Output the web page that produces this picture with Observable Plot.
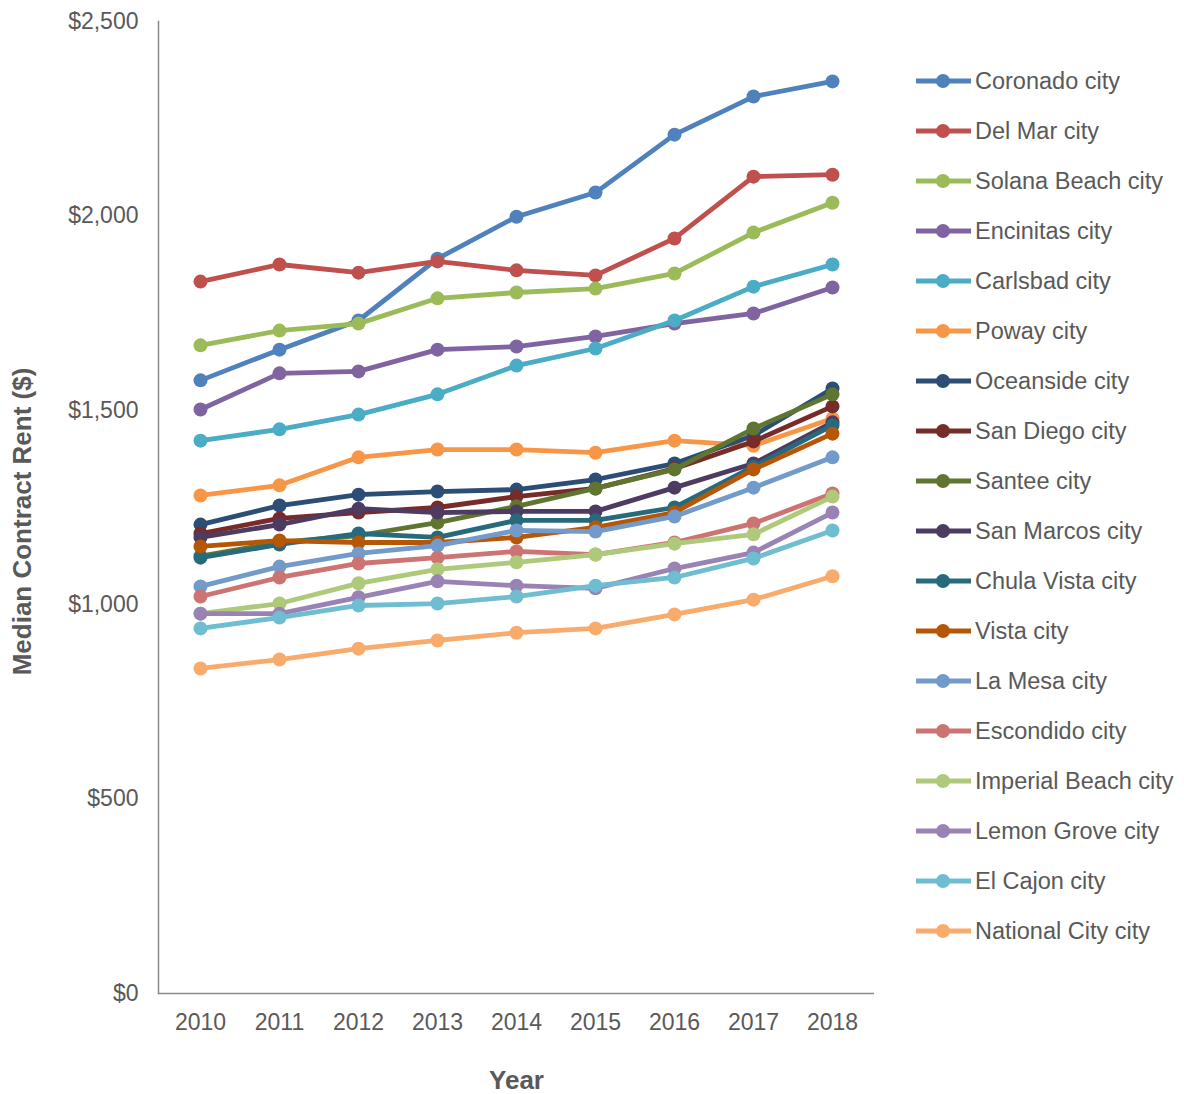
<!DOCTYPE html>
<html><head><meta charset="utf-8">
<script src="https://cdn.jsdelivr.net/npm/d3@7"></script>
<script src="https://cdn.jsdelivr.net/npm/@observablehq/plot@0.6"></script>
<style>
body{margin:0;background:#fff;}
#wrap{position:relative;width:1184px;height:1094px;font-family:"Liberation Sans",Arial,sans-serif;}
#legend{position:absolute;left:914px;top:56px;}
.item{height:50px;display:flex;align-items:center;font-size:23.5px;color:#595959;white-space:nowrap;}
.item svg{margin-right:3px;flex:none;}
</style></head><body><div id="wrap"></div><script>
const years = [2010, 2011, 2012, 2013, 2014, 2015, 2016, 2017, 2018];
const cities = ["Coronado city","Del Mar city","Solana Beach city","Encinitas city","Carlsbad city","Poway city","Oceanside city","San Diego city","Santee city","San Marcos city","Chula Vista city","Vista city","La Mesa city","Escondido city","Imperial Beach city","Lemon Grove city","El Cajon city","National City city"];
const colors = ["#4F81BD","#C0504D","#9BBB59","#8064A2","#4BACC6","#F79646","#2C4D75","#772C2A","#5F7530","#4D3B62","#276A7C","#B65708","#729ACA","#CD7371","#AFC97A","#9983B5","#6FBDD1","#F9AB6B"];
const coronado      = [1577, 1656, 1731, 1890, 1998, 2060, 2209, 2307, 2346];
const delMar        = [1831, 1875, 1854, 1883, 1860, 1847, 1942, 2101, 2106];
const solanaBeach   = [1667, 1705, 1723, 1788, 1803, 1813, 1852, 1957, 2034];
const encinitas     = [1502, 1595, 1600, 1656, 1664, 1690, 1723, 1749, 1816];
const carlsbad      = [1422, 1451, 1489, 1541, 1615, 1659, 1731, 1818, 1875];
const poway         = [1281, 1307, 1379, 1399, 1399, 1391, 1422, 1409, 1479];
const oceanside     = [1206, 1255, 1283, 1291, 1296, 1322, 1363, 1435, 1556];
const sanDiego      = [1183, 1222, 1237, 1250, 1278, 1299, 1350, 1420, 1510];
const santee        = [1125, 1160, 1178, 1211, 1253, 1299, 1348, 1453, 1541];
const sanMarcos     = [1173, 1206, 1247, 1237, 1240, 1240, 1301, 1363, 1469];
const chulaVista    = [1121, 1155, 1183, 1173, 1217, 1217, 1250, 1355, 1461];
const vista         = [1150, 1165, 1160, 1160, 1173, 1199, 1237, 1348, 1440];
const laMesa        = [1047, 1098, 1132, 1152, 1191, 1188, 1227, 1301, 1379];
const escondido     = [1021, 1070, 1106, 1121, 1137, 1129, 1160, 1209, 1286];
const imperialBeach = [977, 1003, 1055, 1091, 1109, 1129, 1157, 1181, 1278];
const lemonGrove    = [977, 977, 1019, 1060, 1049, 1042, 1093, 1134, 1237];
const elCajon       = [939, 967, 998, 1003, 1021, 1049, 1070, 1119, 1191];
const nationalCity  = [836, 859, 887, 908, 928, 939, 975, 1013, 1073];
const yTicks = [0, 500, 1000, 1500, 2000, 2500];

const rentsByCity = [coronado, delMar, solanaBeach, encinitas, carlsbad, poway, oceanside, sanDiego, santee, sanMarcos, chulaVista, vista, laMesa, escondido, imperialBeach, lemonGrove, elCajon, nationalCity];
const rows = cities.flatMap((c, i) => years.map((yr, j) => ({city: c, year: yr, rent: rentsByCity[i][j]})));

const textColor = "#595959";
const axisColor = "#898989";
const marks = [
  Plot.ruleY([0], {stroke: axisColor, strokeWidth: 1.5}),
  Plot.frame({anchor: "left", stroke: axisColor, strokeWidth: 1.5}),
  Plot.axisY({ticks: yTicks, tickSize: 0, tickPadding: 20, tickFormat: d => "$" + d3.format(",")(d), fontSize: 23, fill: textColor, label: null}),
  Plot.axisX({tickSize: 0, tickPadding: 20, tickFormat: d => String(d), fontSize: 23, fill: textColor, label: null}),
  Plot.text(["Median Contract Rent ($)"], {frameAnchor: "left", rotate: -90, dx: -136, dy: 14, textAnchor: "middle", fontSize: 26, fontWeight: "bold", fill: textColor, lineAnchor: "middle"}),
  Plot.text(["Year"], {frameAnchor: "bottom", dy: 87, fontSize: 26, fontWeight: "bold", fill: textColor, lineAnchor: "middle"})
];
cities.forEach((c, i) => {
  const d = rows.filter(r => r.city === c);
  marks.push(Plot.line(d, {x: "year", y: "rent", stroke: colors[i], strokeWidth: 4.8}));
  marks.push(Plot.dot(d, {x: "year", y: "rent", fill: colors[i], r: 7}));
});

const chart = Plot.plot({
  width: 1184, height: 1094,
  marginLeft: 158, marginRight: 310, marginTop: 21, marginBottom: 101,
  style: {fontFamily: '"Liberation Sans", Arial, sans-serif', background: "#fff"},
  x: {type: "point", domain: years, padding: 0.5},
  y: {domain: [0, 2500]},
  marks
});
const wrap = document.getElementById("wrap");
wrap.appendChild(chart);

const legend = document.createElement("div");
legend.id = "legend";
cities.forEach((c, i) => {
  const item = document.createElement("div");
  item.className = "item";
  item.innerHTML = `<svg width="58" height="20"><line x1="2" x2="57" y1="10" y2="10" stroke="${colors[i]}" stroke-width="4.8"/><circle cx="29" cy="10" r="7" fill="${colors[i]}"/></svg><span>${c}</span>`;
  legend.appendChild(item);
});
wrap.appendChild(legend);
</script></body></html>
